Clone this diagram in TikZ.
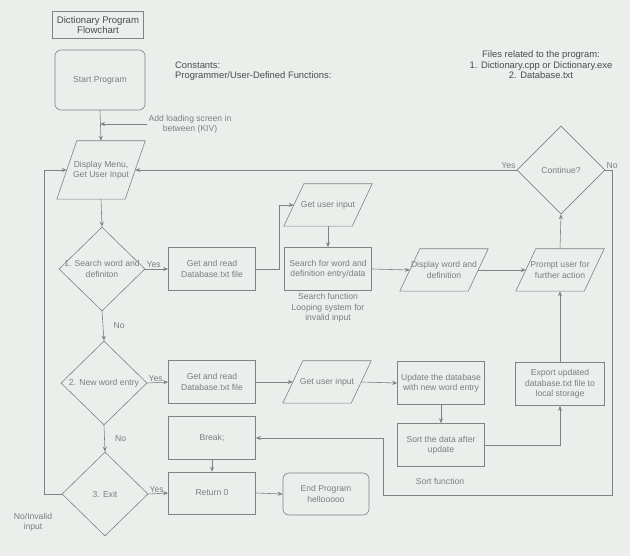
\documentclass[tikz,border=0pt]{standalone}
\usepackage{fontspec}
\setmainfont{Liberation Sans}
\usetikzlibrary{arrows.meta,shapes.geometric}
\definecolor{figInk}{RGB}{124,126,128}
\definecolor{figDark}{RGB}{74,76,80}
\definecolor{figLine}{RGB}{128,130,132}
\definecolor{figPaper}{RGB}{236,238,236}
% slanted frame round an io node
\newcommand{\ioframe}[1]{%
  \draw[figLine, line width=0.6pt] ([xshift=-10pt]#1.south west) -- ([xshift=10pt]#1.north west)
    -- ([xshift=10pt]#1.north east) -- ([xshift=-10pt]#1.south east) -- cycle;}

\begin{document}
\begin{tikzpicture}[
  x=1pt,
  y=-1pt,
  font=\fontsize{8.6}{10.4}\selectfont,
  every node/.style={text=figInk},
  box/.style={draw=figLine, line width=0.6pt, minimum width=87pt, minimum height=43pt, align=center, inner sep=2pt},
  term/.style={box, rounded corners=6pt},
  io/.style={minimum width=68pt, minimum height=42pt, align=center, inner sep=1pt},
  decision/.style={diamond, draw=figLine, line width=0.6pt, minimum width=86pt, minimum height=84pt, inner sep=0pt},
  note/.style={align=center, inner sep=1pt},
  header/.style={note, text=figDark, font=\fontsize{9.4}{10.6}\selectfont},
  line/.style={-{Stealth[length=5pt,width=4pt]}, draw=figLine, line width=0.6pt}
]
\fill[figPaper] (0,0) rectangle (630,556);
\useasboundingbox (0,0) rectangle (630,556);

% header
\node[box, minimum width=91pt, minimum height=27pt, text=figDark, font=\fontsize{9.6}{10.8}\selectfont] (title) at (98,25) {Dictionary Program\\Flowchart};
\node[term, minimum width=90pt, minimum height=60pt] (start) at (100,80) {Start Program};
\node[header, align=left, anchor=west] (consts) at (174,71) {Constants:\\Programmer/User-Defined Functions:};
\node[header] (files) at (541,65) {Files related to the program:\\1. Dictionary.cpp or Dictionary.exe\\2. Database.txt};
\node[note] (kiv) at (190,124) {Add loading screen in\\between (KIV)};

% menu and search branch
\node[io, minimum height=58pt] (menu) at (101,170) {Display Menu,\\Get User Input};
\ioframe{menu}
\node[decision] (d1) at (102,269) {};
\node (d1t) at (d1) [note] {1. Search word and\\definiton};
\node[box] (rd1) at (212,269) {Get and read\\Database.txt file};
\node[io] (in1) at (328,205) {Get user input};
\ioframe{in1}
\node[box] (srch) at (328,269) {Search for word and\\definition entry/data};
\node[note] (srchnote) at (328,308) {Search function\\Looping system for\\invalid input};
\node[io] (disp) at (444,270) {Display word and\\definition};
\ioframe{disp}
\node[io] (prompt) at (560,270) {Prompt user for\\further action};
\ioframe{prompt}
\node[decision, minimum width=88pt, minimum height=88pt] (cont) at (561,170) {};
\node (contt) at (cont) [note] {Continue?};

% new word branch
\node[decision] (d2) at (104,383) {};
\node (d2t) at (d2) [note] {2. New word entry};
\node[box] (rd2) at (212,382) {Get and read\\Database.txt file};
\node[io] (in2) at (327,382) {Get user input};
\ioframe{in2}
\node[box] (upd) at (441,383) {Update the database\\with new word entry};
\node[box] (sort) at (441,445) {Sort the data after\\update};
\node[note] (sortnote) at (440,481) {Sort function};
\node[box, minimum width=89pt] (exp) at (560,384) {Export updated\\database.txt file to\\local storage};

% exit branch
\node[box] (brk) at (212,438) {Break;};
\node[box, minimum height=42pt] (ret) at (212,493) {Return 0};
\node[decision] (d3) at (105,494) {};
\node (d3t) at (d3) [note] {3. Exit};
\node[term, minimum width=86pt, minimum height=42pt] (fin) at (326,494) {End Program\\hellooooo};
\node[note] (invalid) at (33,522) {No/Invalid\\input};

\coordinate (rcorner) at (612,495);
\coordinate (lcorner) at (383,495);
\coordinate (lrail) at (44,494);

\draw[line] (start.south) -- (menu.north);
\draw[line] (kiv.west) -- (kiv.west -| start.south);
\draw[line] (menu.south) -- (d1.north);
\draw[line] (d1.east) -- (rd1.west) node[anchor=south west, pos=0, inner sep=1pt] {Yes};
\draw[line] (rd1.east) -- ++(23,0) |- (in1.west);
\draw[line] (in1.south) -- (srch.north);
\draw[line] (srch.east) -- (disp.west);
\draw[line] (disp.east) -- (prompt.west);
\draw[line] (prompt.north) -- (cont.south);
\draw[line] (cont.west) -- (menu.east) node[anchor=south east, pos=0, inner sep=1pt] {Yes};
\draw[line] (cont.east) node[anchor=south west, inner sep=1pt] {No} -| (rcorner) -- (lcorner) |- (brk.east);

\draw[line] (d1.south) -- (d2.north) node[right, midway, xshift=7pt] {No};
\draw[line] (d2.east) -- (rd2.west) node[anchor=south west, pos=0, inner sep=1pt] {Yes};
\draw[line] (rd2.east) -- (in2.west);
\draw[line] (in2.east) -- (upd.west);
\draw[line] (upd.south) -- (sort.north);
\draw[line] (sort.east) -| (exp.south);
\draw[line] (exp.north) -- (prompt.south);

\draw[line] (d2.south) -- (d3.north) node[right, midway, xshift=7pt] {No};
\draw[line] (d3.east) -- (ret.west) node[anchor=south west, pos=0, inner sep=1pt] {Yes};
\draw[line] (brk.south) -- (ret.north);
\draw[line] (ret.east) -- (fin.west);
\draw[line] (d3.west) -- (lrail) |- (menu.west);
\end{tikzpicture}
\end{document}
